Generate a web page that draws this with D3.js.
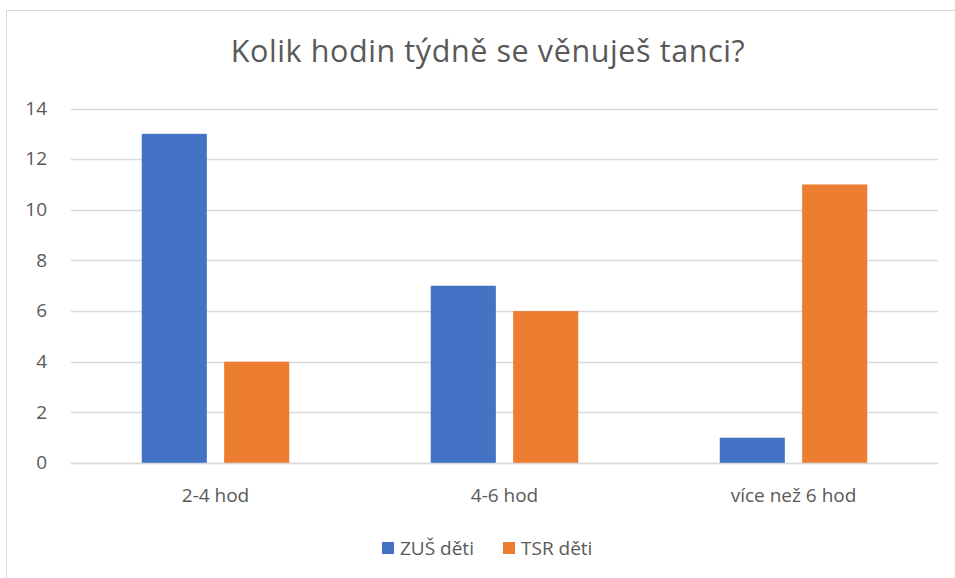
<!DOCTYPE html>
<html>
<head>
<meta charset="utf-8">
<script src="https://cdn.jsdelivr.net/npm/d3@7"></script>
<style>
	body { margin: 0; background: #fff; }
	text { font-family: "Open Sans", sans-serif; fill: #595959; }
</style>
</head>
<body>
<div id="graph"></div>
<script>
var width = 955;
var height = 578;

var title = "Kolik hodin týdně se věnuješ tanci?";
var categories = ["2-4 hod", "4-6 hod", "více než 6 hod"];
var seriesNames = ["ZUŠ děti", "TSR děti"];
var zusValues = [13, 7, 1];
var tsrValues = [4, 6, 11];
var yTicks = [0, 2, 4, 6, 8, 10, 12, 14];
var colors = ["#4472C4", "#ED7D31"];

var rows = categories.map(function (c, i) {
	return { cat: c, values: [zusValues[i], tsrValues[i]] };
});

var svg = d3.select("#graph")
	.append("svg")
	.attr("width", width)
	.attr("height", height);

// chart frame
svg.append("rect")
	.attr("x", 6.5)
	.attr("y", 10.5)
	.attr("width", 960)
	.attr("height", 580)
	.attr("fill", "none")
	.attr("stroke", "#d9d9d9");

svg.append("text")
	.attr("x", 488)
	.attr("y", 62)
	.attr("text-anchor", "middle")
	.style("font-size", "30.5px")
	.style("letter-spacing", "0.6px")
	.text(title);

var xScale = d3.scaleBand().domain(categories).range([71, 938]);
var inner = d3.scaleBand().domain([0, 1])
	.range([70.75, 289 - 70.75])
	.paddingInner(0.21);
var yScale = d3.scaleLinear().domain([0, 14]).range([463, 108.5]);

// gridlines
svg.append("g")
	.selectAll("line")
	.data(yTicks)
	.enter()
	.append("line")
	.attr("x1", 71)
	.attr("x2", 938)
	.attr("y1", function (d) { return Math.round(yScale(d)) + 0.5; })
	.attr("y2", function (d) { return Math.round(yScale(d)) + 0.5; })
	.attr("stroke", "#d9d9d9")
	.attr("stroke-width", 1.3);

var yAxis = d3.axisLeft(yScale).tickValues(yTicks).tickSize(0).tickPadding(0);
var gy = svg.append("g")
	.attr("transform", "translate(47,0)")
	.call(yAxis);
gy.select(".domain").remove();
gy.selectAll("text")
	.style("font-size", "19px")
	.attr("fill", "#595959")
	.attr("dy", "0.3em")
	.style("font-family", "'Open Sans', sans-serif");

var groups = svg.selectAll(".cat")
	.data(rows)
	.enter()
	.append("g")
	.attr("class", "cat")
	.attr("transform", function (d) { return "translate(" + xScale(d.cat) + ",0)"; });

groups.selectAll("rect")
	.data(function (d) { return d.values; })
	.enter()
	.append("rect")
	.attr("x", function (d, i) { return inner(i); })
	.attr("width", inner.bandwidth())
	.attr("y", function (d) { return yScale(d); })
	.attr("height", function (d) { return yScale(0) - yScale(d); })
	.attr("fill", function (d, i) { return colors[i]; });

// baseline
svg.append("line")
	.attr("x1", 71)
	.attr("x2", 938)
	.attr("y1", 463.5)
	.attr("y2", 463.5)
	.attr("stroke", "#d9d9d9")
	.attr("stroke-width", 1.3);

var xAxis = d3.axisBottom(xScale).tickSize(0).tickPadding(0);
var gx = svg.append("g")
	.attr("transform", "translate(0,502)")
	.call(xAxis);
gx.select(".domain").remove();
gx.selectAll("text")
	.attr("dy", 0)
	.style("font-size", "19px")
	.attr("fill", "#595959")
	.style("font-family", "'Open Sans', sans-serif");

// legend
var legendX = [382, 503];
var legend = svg.selectAll(".legend")
	.data(seriesNames)
	.enter()
	.append("g")
	.attr("class", "legend")
	.attr("transform", function (d, i) { return "translate(" + legendX[i] + ",542)"; });

legend.append("rect")
	.attr("width", 12)
	.attr("height", 12)
	.attr("fill", function (d, i) { return colors[i]; });

legend.append("text")
	.attr("x", 18)
	.attr("y", 13)
	.style("font-size", "19px")
	.text(function (d) { return d; });
</script>
</body>
</html>
